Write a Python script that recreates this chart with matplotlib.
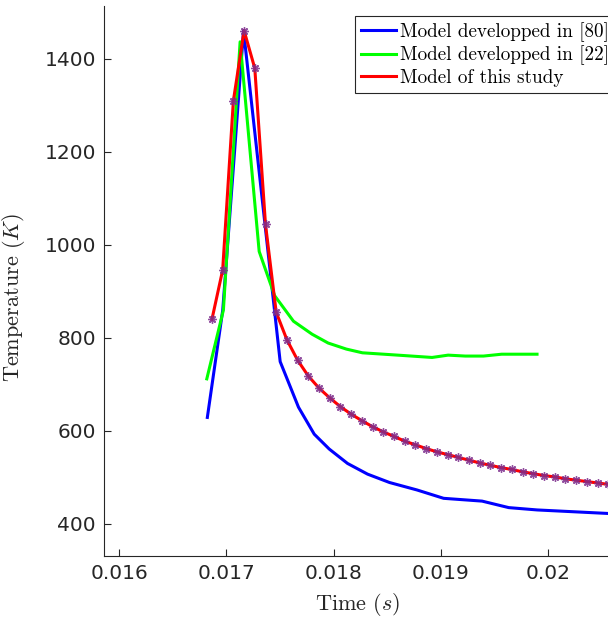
import matplotlib
matplotlib.use("Agg")
import matplotlib.pyplot as plt

plt.rcParams["mathtext.fontset"] = "cm"
plt.rcParams["axes.formatter.use_mathtext"] = False

# red curve (this study), sampled every 0.1 ms
t_study = [0.016865, 0.016965, 0.017065, 0.017165, 0.017265, 0.017365, 0.017465,
           0.017565, 0.017665, 0.017765, 0.017865, 0.017965, 0.018065, 0.018165,
           0.018265, 0.018365, 0.018465, 0.018565, 0.018665, 0.018765, 0.018865,
           0.018965, 0.019065, 0.019165, 0.019265, 0.019365, 0.019465, 0.019565,
           0.019665, 0.019765, 0.019865, 0.019965, 0.020065, 0.020165, 0.020265,
           0.020365, 0.020465, 0.020565]
T_study = [840, 946, 1310, 1461, 1380, 1044, 855, 796, 752, 718, 692, 671, 652, 636,
           622, 609, 598, 588, 578, 570, 562, 555, 549, 543, 537, 531, 526, 521, 517,
           512, 508, 504, 501, 497, 494, 491, 488, 485]

# blue curve, ref [80]
t_80 = [0.016822, 0.016966, 0.017160, 0.017502, 0.017673, 0.017820, 0.017960,
        0.018131, 0.018318, 0.018523, 0.018779, 0.019028, 0.019387, 0.019636,
        0.019901, 0.020600]
T_80 = [629, 860, 1461, 749, 651, 593, 561, 530, 507, 489, 473, 455, 449, 435, 430, 422]

# green curve, ref [22]
t_22 = [0.016817, 0.016972, 0.017128, 0.017306, 0.017450, 0.017626, 0.017800,
        0.017950, 0.018120, 0.018270, 0.018600, 0.018920, 0.019070, 0.019230,
        0.019400, 0.019570, 0.019900]
T_22 = [712, 860, 1437, 986, 891, 836, 808, 789, 776, 768, 763, 758, 763, 761, 761,
        765, 765]

labels = ["Model developped in [80]", "Model developped in [22]", "Model of this study"]

W, H = 608, 621
fig = plt.figure(figsize=(W / 100, H / 100), dpi=100)
x0, x1, yb, yt = 104.3, 612, 555.5, 6
ax = fig.add_axes([x0 / W, (H - yb) / H, (x1 - x0) / W, (yb - yt) / H])

ax.plot(t_80, T_80, color=(0, 0, 1), lw=2.2, label=labels[0])
ax.plot(t_22, T_22, color=(0, 1, 0), lw=2.2, label=labels[1])
ax.plot(t_study, T_study, color=(1, 0, 0), lw=2.2, label=labels[2])
ax.plot(t_study, T_study, ls="none", marker=(8, 2, 0), ms=6, mew=1.0,
        color="#7E2F8E", alpha=0.85)

ax.set_xlim(0.01586, 0.0206)
ax.set_ylim(332, 1514)
ax.set_xticks([0.016, 0.017, 0.018, 0.019, 0.02])
ax.set_xticklabels(["0.016", "0.017", "0.018", "0.019", "0.02"])
ax.set_yticks([400, 600, 800, 1000, 1200, 1400])

for s in ["top", "right"]:
    ax.spines[s].set_visible(False)
for s in ["left", "bottom"]:
    ax.spines[s].set_color("#262626")
    ax.spines[s].set_linewidth(0.8)
ax.tick_params(direction="in", length=5, width=0.8, colors="#262626",
               labelsize=14.5, pad=6)

ax.set_xlabel("Time ($s$)", family="cmr10", fontsize=16, color="#262626")
ax.set_ylabel("Temperature ($K$)", family="cmr10", fontsize=16, color="#262626")
ax.yaxis.set_label_coords(27 / W, (H - 297) / H, transform=fig.transFigure)
ax.xaxis.set_label_coords(358 / W, (H - 591) / H, transform=fig.transFigure)

leg = ax.legend(loc="upper left", bbox_to_anchor=(355 / W, (H - 16) / H),
                bbox_transform=fig.transFigure, prop={"family": "cmr10", "size": 13.8},
                fancybox=False, framealpha=1, edgecolor="#262626",
                handlelength=1.85, handletextpad=0.22, labelspacing=0.2,
                borderpad=0.3, borderaxespad=0)
leg.get_frame().set_linewidth(0.8)

fig.savefig("out.png", dpi=100)
